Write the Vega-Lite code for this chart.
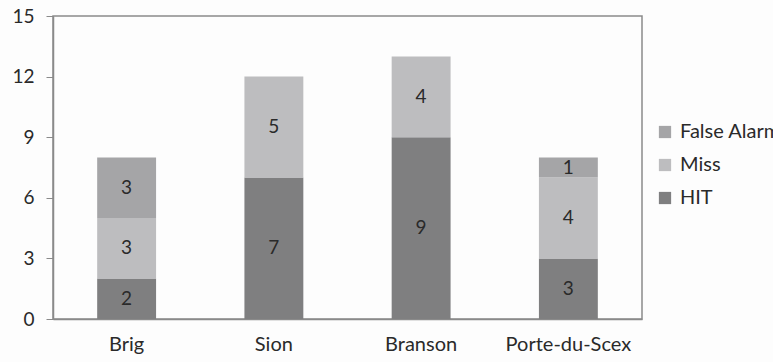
{
  "$schema": "https://vega.github.io/schema/vega-lite/v6.json",
  "width": 589,
  "height": 303,
  "autosize": "none",
  "padding": {"left": 53, "top": 16, "right": 131, "bottom": 43},
  "background": "#fdfdfd",
  "config": {
    "view": {"stroke": "#8a8a8a", "strokeWidth": 1.5},
    "font": "Lato"
  },
  "data": {
    "values": [
      {"site": "Brig", "type": "HIT", "value": 2, "ord": 1},
      {"site": "Brig", "type": "Miss", "value": 3, "ord": 2},
      {"site": "Brig", "type": "False Alarm", "value": 3, "ord": 3},
      {"site": "Sion", "type": "HIT", "value": 7, "ord": 1},
      {"site": "Sion", "type": "Miss", "value": 5, "ord": 2},
      {"site": "Branson", "type": "HIT", "value": 9, "ord": 1},
      {"site": "Branson", "type": "Miss", "value": 4, "ord": 2},
      {"site": "Porte-du-Scex", "type": "HIT", "value": 3, "ord": 1},
      {"site": "Porte-du-Scex", "type": "Miss", "value": 4, "ord": 2},
      {"site": "Porte-du-Scex", "type": "False Alarm", "value": 1, "ord": 3}
    ]
  },
  "encoding": {
    "x": {
      "field": "site", "type": "nominal", "sort": ["Brig", "Sion", "Branson", "Porte-du-Scex"],
      "scale": {"paddingInner": 0.6, "paddingOuter": 0.3},
      "axis": {"title": null, "labelAngle": 0, "ticks": false, "domainColor": "#8a8a8a", "domainWidth": 1.5, "labelFontSize": 20, "labelColor": "#2a2a2a", "labelPadding": 15}
    },
    "y": {
      "field": "value", "type": "quantitative", "aggregate": "sum", "stack": "zero",
      "scale": {"domain": [0, 15]},
      "axis": {"title": null, "values": [0, 3, 6, 9, 12, 15], "grid": false, "tickSize": 7, "tickColor": "#8a8a8a", "domainColor": "#8a8a8a", "domainWidth": 1.5, "labelFontSize": 19, "labelColor": "#2a2a2a", "labelPadding": 12}
    },
    "order": {"field": "ord", "type": "quantitative"}
  },
  "layer": [
    {
      "mark": {"type": "bar"},
      "encoding": {
        "color": {
          "field": "type", "type": "nominal",
          "scale": {"domain": ["False Alarm", "Miss", "HIT"], "range": ["#a5a5a7", "#bdbdbf", "#7f7f80"]},
          "legend": {"title": null, "orient": "none", "legendX": 602, "legendY": 106, "symbolType": "square", "symbolSize": 150, "symbolStrokeWidth": 0, "labelFontSize": 20, "labelColor": "#2a2a2a", "rowPadding": 13, "labelOffset": 5}
        }
      }
    },
    {
      "mark": {"type": "text", "fontSize": 19, "color": "#2a2a2a"},
      "encoding": {
        "y": {"field": "value", "type": "quantitative", "aggregate": "sum", "stack": "zero", "bandPosition": 0.5},
        "text": {"field": "value", "type": "quantitative", "aggregate": "sum"},
        "detail": {"field": "type", "type": "nominal"}
      }
    }
  ]
}
